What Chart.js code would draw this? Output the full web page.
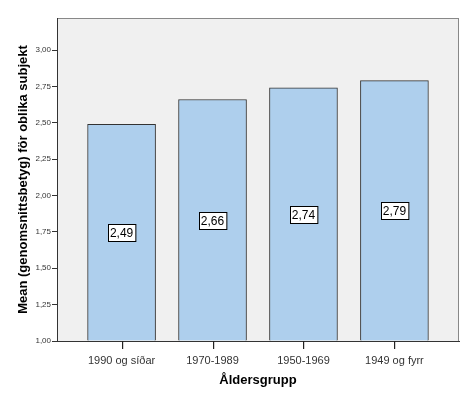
<!DOCTYPE html>
<html>
<head>
<meta charset="utf-8">
<script src="https://cdn.jsdelivr.net/npm/chart.js@4/dist/chart.umd.min.js"></script>
<style>
  html, body { margin: 0; padding: 0; background: #fff; }
</style>
</head>
<body>
<canvas id="c" width="470" height="397"></canvas>
<script>
const categories = ['1990 og síðar', '1970-1989', '1950-1969', '1949 og fyrr'];
const means = [2.49, 2.66, 2.74, 2.79];
const yTicks = [1.00, 1.25, 1.50, 1.75, 2.00, 2.25, 2.50, 2.75, 3.00];

const fmt = v => v.toFixed(2).replace('.', ',');

// grey plot panel + frame behind the bars
const panel = {
  id: 'panel',
  beforeDraw(chart) {
    const { ctx, chartArea: a } = chart;
    ctx.save();
    ctx.fillStyle = '#f0f0f0';
    ctx.fillRect(a.left, a.top, a.right - a.left, a.bottom - a.top);
    ctx.strokeStyle = '#888';
    ctx.lineWidth = 1;
    ctx.strokeRect(a.left + 0.5, a.top + 0.5, a.right - a.left - 1, a.bottom - a.top);
    ctx.restore();
  },
  // category tick marks under the x axis
  afterDraw(chart) {
    const { ctx, chartArea: a, scales } = chart;
    ctx.save();
    ctx.fillStyle = '#222';
    categories.forEach((c, i) => {
      const x = Math.round(scales.x.getPixelForValue(i));
      ctx.fillRect(x, a.bottom, 1.2, 8);
    });
    ctx.restore();
  }
};

// value boxes in the middle of each bar
const boxes = {
  id: 'boxes',
  afterDatasetsDraw(chart) {
    const { ctx, chartArea } = chart;
    const meta = chart.getDatasetMeta(0);
    ctx.save();
    ctx.font = '12px "Liberation Sans", Arial, sans-serif';
    ctx.textAlign = 'center';
    ctx.textBaseline = 'middle';
    meta.data.forEach((bar, i) => {
      const txt = fmt(means[i]);
      const cy = (bar.y + chartArea.bottom) / 2;
      const w = ctx.measureText(txt).width + 4;
      const h = 17;
      const x0 = Math.round(bar.x - w / 2) + 0.5;
      const y0 = Math.round(cy - h / 2) + 0.5;
      ctx.fillStyle = '#fff';
      ctx.fillRect(x0, y0, w, h);
      ctx.strokeStyle = '#000';
      ctx.lineWidth = 1;
      ctx.strokeRect(x0, y0, w, h);
      ctx.fillStyle = '#000';
      ctx.fillText(txt, bar.x, cy + 1);
    });
    ctx.restore();
  }
};

new Chart(document.getElementById('c'), {
  type: 'bar',
  data: {
    datasets: [{
      data: means.map((v, i) => ({ x: i, y: v })),
      backgroundColor: '#aecfed',
      borderColor: '#333',
      borderWidth: 1,
      barThickness: 68,
      borderSkipped: 'bottom',
      base: 1
    }]
  },
  options: {
    responsive: false,
    animation: false,
    layout: { padding: { top: 18, right: 11, left: 0, bottom: 0 } },
    plugins: { legend: { display: false }, tooltip: { enabled: false } },
    scales: {
      x: {
        type: 'linear',
        offset: false,
        min: -0.71,
        max: 3.71,
        afterBuildTicks(s) { s.ticks = categories.map((c, i) => ({ value: i })); },
        afterFit(s) { s.height = 56; },
        ticks: {
          callback: v => categories[v],
          color: '#333',
          font: { family: '"Liberation Sans", Arial, sans-serif', size: 11 },
          padding: 5,
          maxRotation: 0
        },
        grid: { display: false },
        border: { display: true, color: '#333' },
        title: {
          display: true,
          text: 'Åldersgrupp',
          color: '#000',
          font: { family: '"Liberation Sans", Arial, sans-serif', size: 13, weight: 'bold' },
          padding: { top: 0, bottom: 9 }
        }
      },
      y: {
        min: 1,
        max: 3.22,
        afterBuildTicks(s) { s.ticks = yTicks.map(v => ({ value: v })); },
        afterFit(s) { s.width = 57; },
        ticks: {
          callback: v => fmt(v),
          color: '#333',
          font: { family: '"Liberation Sans", Arial, sans-serif', size: 8 },
          padding: 1
        },
        grid: { drawOnChartArea: false, tickLength: 5, color: '#333' },
        border: { display: true, color: '#333' },
        title: {
          display: true,
          text: 'Mean (genomsnittsbetyg) för oblika subjekt',
          color: '#000',
          font: { family: '"Liberation Sans", Arial, sans-serif', size: 13, weight: 'bold' },
          padding: { top: 16, bottom: 2 }
        }
      }
    }
  },
  plugins: [panel, boxes]
});
</script>
</body>
</html>
